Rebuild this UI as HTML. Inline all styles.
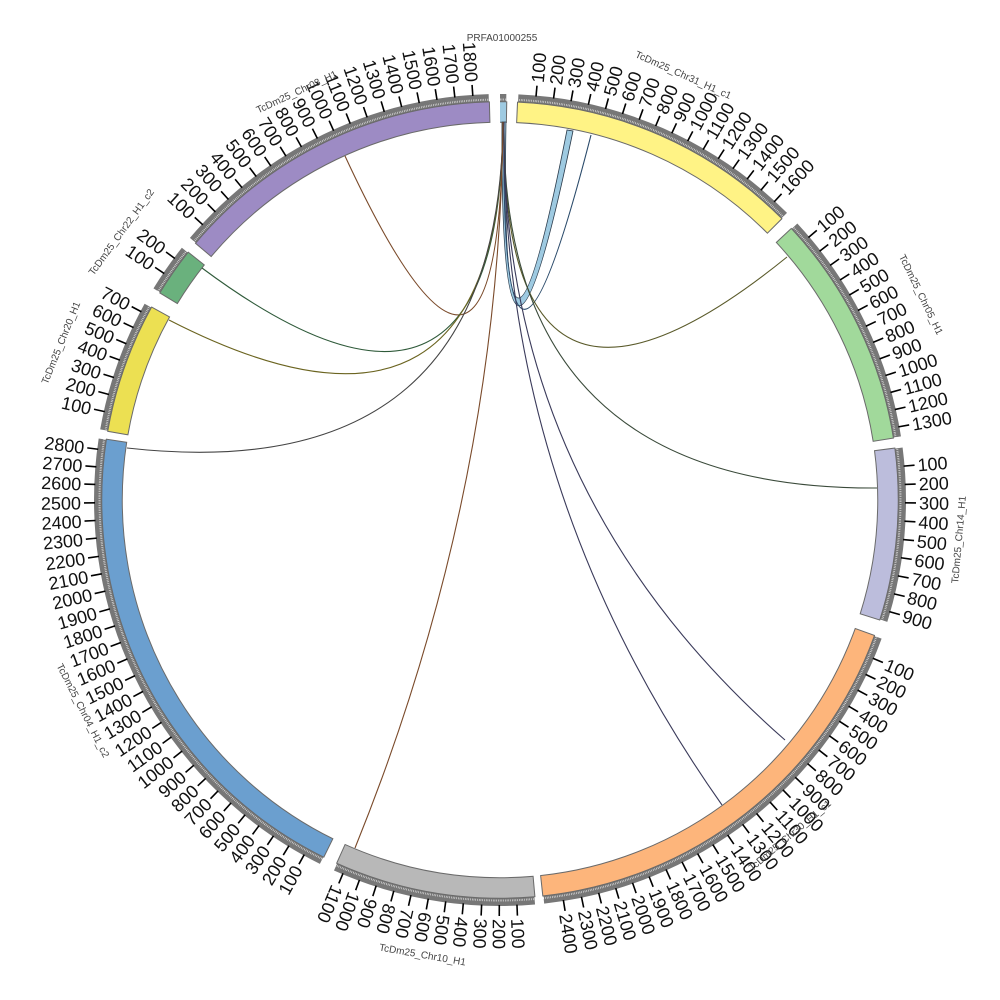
<!DOCTYPE html>
<html><head><meta charset="utf-8"><style>
html,body{margin:0;padding:0;background:#fff}
svg{display:block}
text{font-family:"Liberation Sans",sans-serif}
.t text{font-size:18px;fill:#111}
.t text.l{text-anchor:end}
.t line{stroke:#000;stroke-width:1.6}
.n{font-size:10px;fill:#444;text-anchor:middle}
.c{fill:none;stroke-width:1.1}
</style></head><body>
<svg width="1000" height="1000" viewBox="0 0 1000 1000" xmlns="http://www.w3.org/2000/svg">
<g transform="rotate(-90 500 500)" fill="none">
<!-- grey bands -->
<g stroke="#777" stroke-width="8">
<circle cx="500" cy="500" r="402" pathLength="360" stroke-dasharray="0.9 400" stroke-dashoffset="0"/>
<circle cx="500" cy="500" r="402" pathLength="360" stroke-dasharray="42.4 400" stroke-dashoffset="-2.6"/>
<circle cx="500" cy="500" r="402" pathLength="360" stroke-dasharray="33.9 400" stroke-dashoffset="-47.1"/>
<circle cx="500" cy="500" r="402" pathLength="360" stroke-dasharray="24.9 400" stroke-dashoffset="-82.6"/>
<circle cx="500" cy="500" r="402" pathLength="360" stroke-dasharray="63.8 400" stroke-dashoffset="-110"/>
<circle cx="500" cy="500" r="402" pathLength="360" stroke-dasharray="29.1 400" stroke-dashoffset="-175.1"/>
<circle cx="500" cy="500" r="402" pathLength="360" stroke-dasharray="72.4 400" stroke-dashoffset="-206.4"/>
<circle cx="500" cy="500" r="402" pathLength="360" stroke-dasharray="18.9 400" stroke-dashoffset="-280.1"/>
<circle cx="500" cy="500" r="402" pathLength="360" stroke-dasharray="7 400" stroke-dashoffset="-301.5"/>
<circle cx="500" cy="500" r="402" pathLength="360" stroke-dasharray="48.2 400" stroke-dashoffset="-310.3"/>
</g>
<circle cx="500" cy="500" r="400.5" pathLength="360" stroke="#fff" stroke-width="2" stroke-dasharray="0.07 0.18"/>
<!-- bar outlines -->
<g stroke="#6a6a6a" stroke-width="21.5">
<circle cx="500" cy="500" r="388" pathLength="360" stroke-dasharray="1.2 400" stroke-dashoffset="0.15"/>
<circle cx="500" cy="500" r="388" pathLength="360" stroke-dasharray="42.7 400" stroke-dashoffset="-2.45"/>
<circle cx="500" cy="500" r="388" pathLength="360" stroke-dasharray="34.2 400" stroke-dashoffset="-46.95"/>
<circle cx="500" cy="500" r="388" pathLength="360" stroke-dasharray="25.2 400" stroke-dashoffset="-82.45"/>
<circle cx="500" cy="500" r="388" pathLength="360" stroke-dasharray="64.1 400" stroke-dashoffset="-109.85"/>
<circle cx="500" cy="500" r="388" pathLength="360" stroke-dasharray="29.4 400" stroke-dashoffset="-174.95"/>
<circle cx="500" cy="500" r="388" pathLength="360" stroke-dasharray="72.7 400" stroke-dashoffset="-206.25"/>
<circle cx="500" cy="500" r="388" pathLength="360" stroke-dasharray="19.2 400" stroke-dashoffset="-279.95"/>
<circle cx="500" cy="500" r="388" pathLength="360" stroke-dasharray="7.3 400" stroke-dashoffset="-301.35"/>
<circle cx="500" cy="500" r="388" pathLength="360" stroke-dasharray="48.5 400" stroke-dashoffset="-310.15"/>
</g>
<g stroke-width="19.5">
<circle cx="500" cy="500" r="388" pathLength="360" stroke="#9ecae1" stroke-dasharray="0.9 400" stroke-dashoffset="0"/>
<circle cx="500" cy="500" r="388" pathLength="360" stroke="#fff385" stroke-dasharray="42.4 400" stroke-dashoffset="-2.6"/>
<circle cx="500" cy="500" r="388" pathLength="360" stroke="#a1d99b" stroke-dasharray="33.9 400" stroke-dashoffset="-47.1"/>
<circle cx="500" cy="500" r="388" pathLength="360" stroke="#bcbddc" stroke-dasharray="24.9 400" stroke-dashoffset="-82.6"/>
<circle cx="500" cy="500" r="388" pathLength="360" stroke="#fdb57b" stroke-dasharray="63.8 400" stroke-dashoffset="-110"/>
<circle cx="500" cy="500" r="388" pathLength="360" stroke="#b8b8b8" stroke-dasharray="29.1 400" stroke-dashoffset="-175.1"/>
<circle cx="500" cy="500" r="388" pathLength="360" stroke="#6b9fcf" stroke-dasharray="72.4 400" stroke-dashoffset="-206.4"/>
<circle cx="500" cy="500" r="388" pathLength="360" stroke="#ece052" stroke-dasharray="18.9 400" stroke-dashoffset="-280.1"/>
<circle cx="500" cy="500" r="388" pathLength="360" stroke="#6ab17d" stroke-dasharray="7 400" stroke-dashoffset="-301.5"/>
<circle cx="500" cy="500" r="388" pathLength="360" stroke="#9d8bc4" stroke-dasharray="48.2 400" stroke-dashoffset="-310.3"/>
</g>
</g>

<!-- chords -->
<path d="M502,122 Q500,485 573,131 L567,130 Q500,470 506,122 Z" fill="#9ecae1" stroke="#2a3a4a" stroke-width="0.8"/>
<path class="c" stroke="#2a4a6a" d="M504,122 Q500,490 591,135"/>
<path class="c" stroke="#7a4a2a" d="M503,122 Q500,490 345,156"/>
<path class="c" stroke="#2f5a3a" d="M503,122 Q500,490 202,268"/>
<path class="c" stroke="#6b6420" d="M503,122 Q500,490 169,320"/>
<path class="c" stroke="#444" d="M503,122 Q500,490 127,448"/>
<path class="c" stroke="#5a5a2a" d="M504,122 Q500,490 787,257"/>
<path class="c" stroke="#3a4a3a" d="M504,122 Q500,490 877,488"/>
<path class="c" stroke="#3a3a5a" d="M504,122 Q500,490 785,740"/>
<path class="c" stroke="#3a3a5a" d="M504,122 Q500,490 722,805"/>
<path class="c" stroke="#7a4a2a" d="M503,122 Q500,490 355,848"/>

<!-- ticks -->
<g class="t">
<!-- Chr31 -->
<g transform="rotate(5.1 500 500)"><line x1="500" y1="84" x2="500" y2="95"/><text transform="translate(506.5 81) rotate(-90)">100</text></g>
<g transform="rotate(7.6 500 500)"><line x1="500" y1="84" x2="500" y2="95"/><text transform="translate(506.5 81) rotate(-90)">200</text></g>
<g transform="rotate(10.1 500 500)"><line x1="500" y1="84" x2="500" y2="95"/><text transform="translate(506.5 81) rotate(-90)">300</text></g>
<g transform="rotate(12.6 500 500)"><line x1="500" y1="84" x2="500" y2="95"/><text transform="translate(506.5 81) rotate(-90)">400</text></g>
<g transform="rotate(15.1 500 500)"><line x1="500" y1="84" x2="500" y2="95"/><text transform="translate(506.5 81) rotate(-90)">500</text></g>
<g transform="rotate(17.6 500 500)"><line x1="500" y1="84" x2="500" y2="95"/><text transform="translate(506.5 81) rotate(-90)">600</text></g>
<g transform="rotate(20.1 500 500)"><line x1="500" y1="84" x2="500" y2="95"/><text transform="translate(506.5 81) rotate(-90)">700</text></g>
<g transform="rotate(22.6 500 500)"><line x1="500" y1="84" x2="500" y2="95"/><text transform="translate(506.5 81) rotate(-90)">800</text></g>
<g transform="rotate(25.1 500 500)"><line x1="500" y1="84" x2="500" y2="95"/><text transform="translate(506.5 81) rotate(-90)">900</text></g>
<g transform="rotate(27.6 500 500)"><line x1="500" y1="84" x2="500" y2="95"/><text transform="translate(506.5 81) rotate(-90)">1000</text></g>
<g transform="rotate(30.1 500 500)"><line x1="500" y1="84" x2="500" y2="95"/><text transform="translate(506.5 81) rotate(-90)">1100</text></g>
<g transform="rotate(32.6 500 500)"><line x1="500" y1="84" x2="500" y2="95"/><text transform="translate(506.5 81) rotate(-90)">1200</text></g>
<g transform="rotate(35.1 500 500)"><line x1="500" y1="84" x2="500" y2="95"/><text transform="translate(506.5 81) rotate(-90)">1300</text></g>
<g transform="rotate(37.6 500 500)"><line x1="500" y1="84" x2="500" y2="95"/><text transform="translate(506.5 81) rotate(-90)">1400</text></g>
<g transform="rotate(40.1 500 500)"><line x1="500" y1="84" x2="500" y2="95"/><text transform="translate(506.5 81) rotate(-90)">1500</text></g>
<g transform="rotate(42.6 500 500)"><line x1="500" y1="84" x2="500" y2="95"/><text transform="translate(506.5 81) rotate(-90)">1600</text></g>
<!-- Chr05 -->
<g transform="rotate(49.6 500 500)"><line x1="500" y1="84" x2="500" y2="95"/><text transform="translate(506.5 81) rotate(-90)">100</text></g>
<g transform="rotate(52.1 500 500)"><line x1="500" y1="84" x2="500" y2="95"/><text transform="translate(506.5 81) rotate(-90)">200</text></g>
<g transform="rotate(54.6 500 500)"><line x1="500" y1="84" x2="500" y2="95"/><text transform="translate(506.5 81) rotate(-90)">300</text></g>
<g transform="rotate(57.1 500 500)"><line x1="500" y1="84" x2="500" y2="95"/><text transform="translate(506.5 81) rotate(-90)">400</text></g>
<g transform="rotate(59.6 500 500)"><line x1="500" y1="84" x2="500" y2="95"/><text transform="translate(506.5 81) rotate(-90)">500</text></g>
<g transform="rotate(62.1 500 500)"><line x1="500" y1="84" x2="500" y2="95"/><text transform="translate(506.5 81) rotate(-90)">600</text></g>
<g transform="rotate(64.6 500 500)"><line x1="500" y1="84" x2="500" y2="95"/><text transform="translate(506.5 81) rotate(-90)">700</text></g>
<g transform="rotate(67.1 500 500)"><line x1="500" y1="84" x2="500" y2="95"/><text transform="translate(506.5 81) rotate(-90)">800</text></g>
<g transform="rotate(69.6 500 500)"><line x1="500" y1="84" x2="500" y2="95"/><text transform="translate(506.5 81) rotate(-90)">900</text></g>
<g transform="rotate(72.1 500 500)"><line x1="500" y1="84" x2="500" y2="95"/><text transform="translate(506.5 81) rotate(-90)">1000</text></g>
<g transform="rotate(74.6 500 500)"><line x1="500" y1="84" x2="500" y2="95"/><text transform="translate(506.5 81) rotate(-90)">1100</text></g>
<g transform="rotate(77.1 500 500)"><line x1="500" y1="84" x2="500" y2="95"/><text transform="translate(506.5 81) rotate(-90)">1200</text></g>
<g transform="rotate(79.6 500 500)"><line x1="500" y1="84" x2="500" y2="95"/><text transform="translate(506.5 81) rotate(-90)">1300</text></g>
<!-- Chr14 -->
<g transform="rotate(85.2 500 500)"><line x1="500" y1="84" x2="500" y2="95"/><text transform="translate(506.5 81) rotate(-90)">100</text></g>
<g transform="rotate(87.8 500 500)"><line x1="500" y1="84" x2="500" y2="95"/><text transform="translate(506.5 81) rotate(-90)">200</text></g>
<g transform="rotate(90.4 500 500)"><line x1="500" y1="84" x2="500" y2="95"/><text transform="translate(506.5 81) rotate(-90)">300</text></g>
<g transform="rotate(93.0 500 500)"><line x1="500" y1="84" x2="500" y2="95"/><text transform="translate(506.5 81) rotate(-90)">400</text></g>
<g transform="rotate(95.6 500 500)"><line x1="500" y1="84" x2="500" y2="95"/><text transform="translate(506.5 81) rotate(-90)">500</text></g>
<g transform="rotate(98.2 500 500)"><line x1="500" y1="84" x2="500" y2="95"/><text transform="translate(506.5 81) rotate(-90)">600</text></g>
<g transform="rotate(100.8 500 500)"><line x1="500" y1="84" x2="500" y2="95"/><text transform="translate(506.5 81) rotate(-90)">700</text></g>
<g transform="rotate(103.4 500 500)"><line x1="500" y1="84" x2="500" y2="95"/><text transform="translate(506.5 81) rotate(-90)">800</text></g>
<g transform="rotate(106.0 500 500)"><line x1="500" y1="84" x2="500" y2="95"/><text transform="translate(506.5 81) rotate(-90)">900</text></g>
<!-- Chr30 -->
<g transform="rotate(113.0 500 500)"><line x1="500" y1="84" x2="500" y2="95"/><text transform="translate(506.5 81) rotate(-90)">100</text></g>
<g transform="rotate(115.5 500 500)"><line x1="500" y1="84" x2="500" y2="95"/><text transform="translate(506.5 81) rotate(-90)">200</text></g>
<g transform="rotate(118.0 500 500)"><line x1="500" y1="84" x2="500" y2="95"/><text transform="translate(506.5 81) rotate(-90)">300</text></g>
<g transform="rotate(120.6 500 500)"><line x1="500" y1="84" x2="500" y2="95"/><text transform="translate(506.5 81) rotate(-90)">400</text></g>
<g transform="rotate(123.1 500 500)"><line x1="500" y1="84" x2="500" y2="95"/><text transform="translate(506.5 81) rotate(-90)">500</text></g>
<g transform="rotate(125.6 500 500)"><line x1="500" y1="84" x2="500" y2="95"/><text transform="translate(506.5 81) rotate(-90)">600</text></g>
<g transform="rotate(128.1 500 500)"><line x1="500" y1="84" x2="500" y2="95"/><text transform="translate(506.5 81) rotate(-90)">700</text></g>
<g transform="rotate(130.6 500 500)"><line x1="500" y1="84" x2="500" y2="95"/><text transform="translate(506.5 81) rotate(-90)">800</text></g>
<g transform="rotate(133.2 500 500)"><line x1="500" y1="84" x2="500" y2="95"/><text transform="translate(506.5 81) rotate(-90)">900</text></g>
<g transform="rotate(135.7 500 500)"><line x1="500" y1="84" x2="500" y2="95"/><text transform="translate(506.5 81) rotate(-90)">1000</text></g>
<g transform="rotate(138.2 500 500)"><line x1="500" y1="84" x2="500" y2="95"/><text transform="translate(506.5 81) rotate(-90)">1100</text></g>
<g transform="rotate(140.7 500 500)"><line x1="500" y1="84" x2="500" y2="95"/><text transform="translate(506.5 81) rotate(-90)">1200</text></g>
<g transform="rotate(143.2 500 500)"><line x1="500" y1="84" x2="500" y2="95"/><text transform="translate(506.5 81) rotate(-90)">1300</text></g>
<g transform="rotate(145.8 500 500)"><line x1="500" y1="84" x2="500" y2="95"/><text transform="translate(506.5 81) rotate(-90)">1400</text></g>
<g transform="rotate(148.3 500 500)"><line x1="500" y1="84" x2="500" y2="95"/><text transform="translate(506.5 81) rotate(-90)">1500</text></g>
<g transform="rotate(150.8 500 500)"><line x1="500" y1="84" x2="500" y2="95"/><text transform="translate(506.5 81) rotate(-90)">1600</text></g>
<g transform="rotate(153.3 500 500)"><line x1="500" y1="84" x2="500" y2="95"/><text transform="translate(506.5 81) rotate(-90)">1700</text></g>
<g transform="rotate(155.8 500 500)"><line x1="500" y1="84" x2="500" y2="95"/><text transform="translate(506.5 81) rotate(-90)">1800</text></g>
<g transform="rotate(158.4 500 500)"><line x1="500" y1="84" x2="500" y2="95"/><text transform="translate(506.5 81) rotate(-90)">1900</text></g>
<g transform="rotate(160.9 500 500)"><line x1="500" y1="84" x2="500" y2="95"/><text transform="translate(506.5 81) rotate(-90)">2000</text></g>
<g transform="rotate(163.4 500 500)"><line x1="500" y1="84" x2="500" y2="95"/><text transform="translate(506.5 81) rotate(-90)">2100</text></g>
<g transform="rotate(165.9 500 500)"><line x1="500" y1="84" x2="500" y2="95"/><text transform="translate(506.5 81) rotate(-90)">2200</text></g>
<g transform="rotate(168.4 500 500)"><line x1="500" y1="84" x2="500" y2="95"/><text transform="translate(506.5 81) rotate(-90)">2300</text></g>
<g transform="rotate(171.0 500 500)"><line x1="500" y1="84" x2="500" y2="95"/><text transform="translate(506.5 81) rotate(-90)">2400</text></g>
<!-- Chr10 -->
<g transform="rotate(177.6 500 500)"><line x1="500" y1="84" x2="500" y2="95"/><text transform="translate(506.5 81) rotate(-90)">100</text></g>
<g transform="rotate(180.1 500 500)"><line x1="500" y1="84" x2="500" y2="95"/><text transform="translate(506.5 81) rotate(-90)">200</text></g>
<g transform="rotate(182.6 500 500)"><line x1="500" y1="84" x2="500" y2="95"/><text transform="translate(506.5 81) rotate(-90)">300</text></g>
<g transform="rotate(185.2 500 500)"><line x1="500" y1="84" x2="500" y2="95"/><text transform="translate(506.5 81) rotate(-90)">400</text></g>
<g transform="rotate(187.7 500 500)"><line x1="500" y1="84" x2="500" y2="95"/><text transform="translate(506.5 81) rotate(-90)">500</text></g>
<g transform="rotate(190.2 500 500)"><line x1="500" y1="84" x2="500" y2="95"/><text transform="translate(506.5 81) rotate(-90)">600</text></g>
<g transform="rotate(192.7 500 500)"><line x1="500" y1="84" x2="500" y2="95"/><text transform="translate(506.5 81) rotate(-90)">700</text></g>
<g transform="rotate(195.2 500 500)"><line x1="500" y1="84" x2="500" y2="95"/><text transform="translate(506.5 81) rotate(-90)">800</text></g>
<g transform="rotate(197.8 500 500)"><line x1="500" y1="84" x2="500" y2="95"/><text transform="translate(506.5 81) rotate(-90)">900</text></g>
<g transform="rotate(200.3 500 500)"><line x1="500" y1="84" x2="500" y2="95"/><text transform="translate(506.5 81) rotate(-90)">1000</text></g>
<g transform="rotate(202.8 500 500)"><line x1="500" y1="84" x2="500" y2="95"/><text transform="translate(506.5 81) rotate(-90)">1100</text></g>
<!-- Chr04 -->
<g transform="rotate(208.9 500 500)"><line x1="500" y1="84" x2="500" y2="95"/><text class="l" transform="translate(493.5 81) rotate(90)">100</text></g>
<g transform="rotate(211.4 500 500)"><line x1="500" y1="84" x2="500" y2="95"/><text class="l" transform="translate(493.5 81) rotate(90)">200</text></g>
<g transform="rotate(214.0 500 500)"><line x1="500" y1="84" x2="500" y2="95"/><text class="l" transform="translate(493.5 81) rotate(90)">300</text></g>
<g transform="rotate(216.5 500 500)"><line x1="500" y1="84" x2="500" y2="95"/><text class="l" transform="translate(493.5 81) rotate(90)">400</text></g>
<g transform="rotate(219.0 500 500)"><line x1="500" y1="84" x2="500" y2="95"/><text class="l" transform="translate(493.5 81) rotate(90)">500</text></g>
<g transform="rotate(221.6 500 500)"><line x1="500" y1="84" x2="500" y2="95"/><text class="l" transform="translate(493.5 81) rotate(90)">600</text></g>
<g transform="rotate(224.1 500 500)"><line x1="500" y1="84" x2="500" y2="95"/><text class="l" transform="translate(493.5 81) rotate(90)">700</text></g>
<g transform="rotate(226.6 500 500)"><line x1="500" y1="84" x2="500" y2="95"/><text class="l" transform="translate(493.5 81) rotate(90)">800</text></g>
<g transform="rotate(229.1 500 500)"><line x1="500" y1="84" x2="500" y2="95"/><text class="l" transform="translate(493.5 81) rotate(90)">900</text></g>
<g transform="rotate(231.7 500 500)"><line x1="500" y1="84" x2="500" y2="95"/><text class="l" transform="translate(493.5 81) rotate(90)">1000</text></g>
<g transform="rotate(234.2 500 500)"><line x1="500" y1="84" x2="500" y2="95"/><text class="l" transform="translate(493.5 81) rotate(90)">1100</text></g>
<g transform="rotate(236.7 500 500)"><line x1="500" y1="84" x2="500" y2="95"/><text class="l" transform="translate(493.5 81) rotate(90)">1200</text></g>
<g transform="rotate(239.3 500 500)"><line x1="500" y1="84" x2="500" y2="95"/><text class="l" transform="translate(493.5 81) rotate(90)">1300</text></g>
<g transform="rotate(241.8 500 500)"><line x1="500" y1="84" x2="500" y2="95"/><text class="l" transform="translate(493.5 81) rotate(90)">1400</text></g>
<g transform="rotate(244.3 500 500)"><line x1="500" y1="84" x2="500" y2="95"/><text class="l" transform="translate(493.5 81) rotate(90)">1500</text></g>
<g transform="rotate(246.9 500 500)"><line x1="500" y1="84" x2="500" y2="95"/><text class="l" transform="translate(493.5 81) rotate(90)">1600</text></g>
<g transform="rotate(249.4 500 500)"><line x1="500" y1="84" x2="500" y2="95"/><text class="l" transform="translate(493.5 81) rotate(90)">1700</text></g>
<g transform="rotate(251.9 500 500)"><line x1="500" y1="84" x2="500" y2="95"/><text class="l" transform="translate(493.5 81) rotate(90)">1800</text></g>
<g transform="rotate(254.4 500 500)"><line x1="500" y1="84" x2="500" y2="95"/><text class="l" transform="translate(493.5 81) rotate(90)">1900</text></g>
<g transform="rotate(257.0 500 500)"><line x1="500" y1="84" x2="500" y2="95"/><text class="l" transform="translate(493.5 81) rotate(90)">2000</text></g>
<g transform="rotate(259.5 500 500)"><line x1="500" y1="84" x2="500" y2="95"/><text class="l" transform="translate(493.5 81) rotate(90)">2100</text></g>
<g transform="rotate(262.0 500 500)"><line x1="500" y1="84" x2="500" y2="95"/><text class="l" transform="translate(493.5 81) rotate(90)">2200</text></g>
<g transform="rotate(264.6 500 500)"><line x1="500" y1="84" x2="500" y2="95"/><text class="l" transform="translate(493.5 81) rotate(90)">2300</text></g>
<g transform="rotate(267.1 500 500)"><line x1="500" y1="84" x2="500" y2="95"/><text class="l" transform="translate(493.5 81) rotate(90)">2400</text></g>
<g transform="rotate(269.6 500 500)"><line x1="500" y1="84" x2="500" y2="95"/><text class="l" transform="translate(493.5 81) rotate(90)">2500</text></g>
<g transform="rotate(272.2 500 500)"><line x1="500" y1="84" x2="500" y2="95"/><text class="l" transform="translate(493.5 81) rotate(90)">2600</text></g>
<g transform="rotate(274.7 500 500)"><line x1="500" y1="84" x2="500" y2="95"/><text class="l" transform="translate(493.5 81) rotate(90)">2700</text></g>
<g transform="rotate(277.2 500 500)"><line x1="500" y1="84" x2="500" y2="95"/><text class="l" transform="translate(493.5 81) rotate(90)">2800</text></g>
<!-- Chr20 -->
<g transform="rotate(282.6 500 500)"><line x1="500" y1="84" x2="500" y2="95"/><text class="l" transform="translate(493.5 81) rotate(90)">100</text></g>
<g transform="rotate(285.1 500 500)"><line x1="500" y1="84" x2="500" y2="95"/><text class="l" transform="translate(493.5 81) rotate(90)">200</text></g>
<g transform="rotate(287.6 500 500)"><line x1="500" y1="84" x2="500" y2="95"/><text class="l" transform="translate(493.5 81) rotate(90)">300</text></g>
<g transform="rotate(290.2 500 500)"><line x1="500" y1="84" x2="500" y2="95"/><text class="l" transform="translate(493.5 81) rotate(90)">400</text></g>
<g transform="rotate(292.7 500 500)"><line x1="500" y1="84" x2="500" y2="95"/><text class="l" transform="translate(493.5 81) rotate(90)">500</text></g>
<g transform="rotate(295.2 500 500)"><line x1="500" y1="84" x2="500" y2="95"/><text class="l" transform="translate(493.5 81) rotate(90)">600</text></g>
<g transform="rotate(297.7 500 500)"><line x1="500" y1="84" x2="500" y2="95"/><text class="l" transform="translate(493.5 81) rotate(90)">700</text></g>
<!-- Chr22 -->
<g transform="rotate(304.0 500 500)"><line x1="500" y1="84" x2="500" y2="95"/><text class="l" transform="translate(493.5 81) rotate(90)">100</text></g>
<g transform="rotate(306.6 500 500)"><line x1="500" y1="84" x2="500" y2="95"/><text class="l" transform="translate(493.5 81) rotate(90)">200</text></g>
<!-- Chr03 -->
<g transform="rotate(312.8 500 500)"><line x1="500" y1="84" x2="500" y2="95"/><text class="l" transform="translate(493.5 81) rotate(90)">100</text></g>
<g transform="rotate(315.35 500 500)"><line x1="500" y1="84" x2="500" y2="95"/><text class="l" transform="translate(493.5 81) rotate(90)">200</text></g>
<g transform="rotate(317.9 500 500)"><line x1="500" y1="84" x2="500" y2="95"/><text class="l" transform="translate(493.5 81) rotate(90)">300</text></g>
<g transform="rotate(320.45 500 500)"><line x1="500" y1="84" x2="500" y2="95"/><text class="l" transform="translate(493.5 81) rotate(90)">400</text></g>
<g transform="rotate(323.0 500 500)"><line x1="500" y1="84" x2="500" y2="95"/><text class="l" transform="translate(493.5 81) rotate(90)">500</text></g>
<g transform="rotate(325.55 500 500)"><line x1="500" y1="84" x2="500" y2="95"/><text class="l" transform="translate(493.5 81) rotate(90)">600</text></g>
<g transform="rotate(328.1 500 500)"><line x1="500" y1="84" x2="500" y2="95"/><text class="l" transform="translate(493.5 81) rotate(90)">700</text></g>
<g transform="rotate(330.65 500 500)"><line x1="500" y1="84" x2="500" y2="95"/><text class="l" transform="translate(493.5 81) rotate(90)">800</text></g>
<g transform="rotate(333.2 500 500)"><line x1="500" y1="84" x2="500" y2="95"/><text class="l" transform="translate(493.5 81) rotate(90)">900</text></g>
<g transform="rotate(335.75 500 500)"><line x1="500" y1="84" x2="500" y2="95"/><text class="l" transform="translate(493.5 81) rotate(90)">1000</text></g>
<g transform="rotate(338.3 500 500)"><line x1="500" y1="84" x2="500" y2="95"/><text class="l" transform="translate(493.5 81) rotate(90)">1100</text></g>
<g transform="rotate(340.85 500 500)"><line x1="500" y1="84" x2="500" y2="95"/><text class="l" transform="translate(493.5 81) rotate(90)">1200</text></g>
<g transform="rotate(343.4 500 500)"><line x1="500" y1="84" x2="500" y2="95"/><text class="l" transform="translate(493.5 81) rotate(90)">1300</text></g>
<g transform="rotate(345.95 500 500)"><line x1="500" y1="84" x2="500" y2="95"/><text class="l" transform="translate(493.5 81) rotate(90)">1400</text></g>
<g transform="rotate(348.5 500 500)"><line x1="500" y1="84" x2="500" y2="95"/><text class="l" transform="translate(493.5 81) rotate(90)">1500</text></g>
<g transform="rotate(351.05 500 500)"><line x1="500" y1="84" x2="500" y2="95"/><text class="l" transform="translate(493.5 81) rotate(90)">1600</text></g>
<g transform="rotate(353.6 500 500)"><line x1="500" y1="84" x2="500" y2="95"/><text class="l" transform="translate(493.5 81) rotate(90)">1700</text></g>
<g transform="rotate(356.15 500 500)"><line x1="500" y1="84" x2="500" y2="95"/><text class="l" transform="translate(493.5 81) rotate(90)">1800</text></g>
</g>

<!-- names -->
<text class="n" x="502" y="41">PRFA01000255</text>
<text class="n" transform="translate(682 78) rotate(24)">TcDm25_Chr31_H1_c1</text>
<text class="n" transform="translate(918 296) rotate(64)">TcDm25_Chr05_H1</text>
<text class="n" transform="translate(962 540) rotate(-85)">TcDm25_Chr14_H1</text>
<text class="n" transform="translate(792 838) rotate(-40)">TcDm25_Chr30_H1_c1</text>
<text class="n" transform="translate(422 958) rotate(10)">TcDm25_Chr10_H1</text>
<text class="n" transform="translate(80 712) rotate(63)">TcDm25_Chr04_H1_c2</text>
<text class="n" transform="translate(64 344) rotate(-68)">TcDm25_Chr20_H1</text>
<text class="n" transform="translate(124 234) rotate(-54)">TcDm25_Chr22_H1_c2</text>
<text class="n" transform="translate(298 95) rotate(-25)">TcDm25_Chr03_H1</text>
</svg>
</body></html>
